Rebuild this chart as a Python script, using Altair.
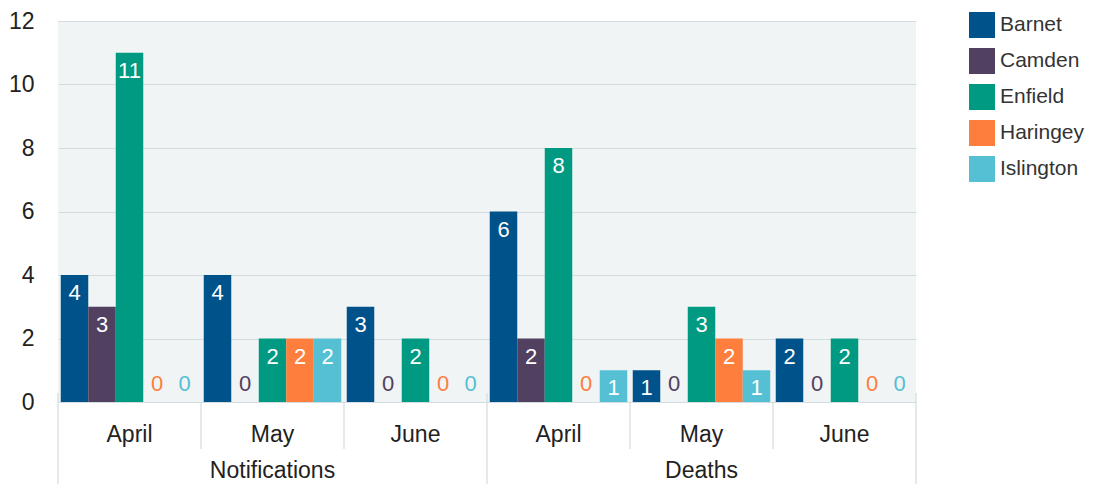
import altair as alt
import pandas as pd

measures = ["Notifications", "Deaths"]
months = ["April", "May", "June"]
boroughs = ["Barnet", "Camden", "Enfield", "Haringey", "Islington"]
colors = ["#00528a", "#51405f", "#009a82", "#fd7e3d", "#55bfd4"]

# values per group: Notifications April, May, June, Deaths April, May, June
barnet = [4, 4, 3, 6, 1, 2]
camden = [3, 0, 0, 2, 0, 0]
enfield = [11, 2, 2, 8, 3, 2]
haringey = [0, 2, 0, 0, 2, 0]
islington = [0, 2, 0, 1, 1, 0]
series = [barnet, camden, enfield, haringey, islington]

groups = [f"{m}|{mo}" for m in measures for mo in months]

rows = []
for bi, b in enumerate(boroughs):
    for gi, g in enumerate(groups):
        rows.append({"group": g, "borough": b, "value": series[bi][gi]})
df = pd.DataFrame(rows)

month_df = pd.DataFrame({"group": groups, "label": [g.split("|")[1] for g in groups]})
cat_df = pd.DataFrame({"group": [f"{m}|May" for m in measures], "label": measures})
inner_sep = pd.DataFrame({"group": [f"{m}|{mo}" for m in measures for mo in months[1:]]})
outer_sep0 = pd.DataFrame({"group": [f"{m}|April" for m in measures]})
outer_sep1 = pd.DataFrame({"group": ["Deaths|June"]})

W, H = 858, 381
FONT = "Liberation Sans"
GRID = "#d3dcdf"

xenc = alt.X("group:N", sort=groups, axis=None,
             scale=alt.Scale(paddingInner=0, paddingOuter=0))
xoff = alt.XOffset("borough:N", sort=boroughs,
                   scale=alt.Scale(paddingInner=0, paddingOuter=0.1))
color = alt.Color("borough:N", sort=boroughs,
                  scale=alt.Scale(domain=boroughs, range=colors),
                  legend=alt.Legend(title=None, orient="none", legendX=911, legendY=-9,
                                    symbolType="square", symbolSize=676,
                                    symbolStrokeWidth=0, rowPadding=10,
                                    labelFontSize=21, labelFont=FONT, labelColor="#333",
                                    labelOffset=5, padding=0))
yenc = alt.Y("value:Q", scale=alt.Scale(domain=[0, 12]),
             axis=alt.Axis(values=[0, 2, 4, 6, 8, 10, 12], title=None, domain=False,
                           ticks=False, labelFontSize=23, labelFont=FONT,
                           labelColor="#222", labelPadding=24, gridColor=GRID))

base = alt.Chart(df)
bars = base.mark_bar().encode(x=xenc, xOffset=xoff, y=yenc, color=color)

pos_labels = base.transform_filter("datum.value > 0").mark_text(
    fontSize=22, font=FONT, color="white", baseline="alphabetic", dy=25
).encode(x=xenc, xOffset=xoff, y="value:Q", text="value:Q")

zero_labels = base.transform_filter("datum.value == 0").mark_text(
    fontSize=22, font=FONT, baseline="alphabetic", dy=-11
).encode(x=xenc, xOffset=xoff, y="value:Q", text="value:Q",
         color=alt.Color("borough:N", sort=boroughs,
                         scale=alt.Scale(domain=boroughs, range=colors), legend=None))

month_text = alt.Chart(month_df).mark_text(
    fontSize=23, font=FONT, color="#222", baseline="middle"
).encode(x=alt.X("group:N", sort=groups, axis=None), y=alt.value(H + 33), text="label:N")

cat_text = alt.Chart(cat_df).mark_text(
    fontSize=23, font=FONT, color="#222", baseline="alphabetic"
).encode(x=alt.X("group:N", sort=groups, axis=None), y=alt.value(H + 76), text="label:N")

inner_rules = alt.Chart(inner_sep).mark_rule(color=GRID, strokeWidth=1.2).encode(
    x=alt.X("group:N", sort=groups, axis=None, bandPosition=0),
    y=alt.value(H), y2=alt.value(H + 47))
outer_rules0 = alt.Chart(outer_sep0).mark_rule(color=GRID, strokeWidth=1.2).encode(
    x=alt.X("group:N", sort=groups, axis=None, bandPosition=0),
    y=alt.value(H - 9), y2=alt.value(H + 100))
outer_rules1 = alt.Chart(outer_sep1).mark_rule(color=GRID, strokeWidth=1.2).encode(
    x=alt.X("group:N", sort=groups, axis=None, bandPosition=1),
    y=alt.value(H - 9), y2=alt.value(H + 100))

chart = alt.layer(
    bars, pos_labels, zero_labels, month_text, cat_text,
    inner_rules, outer_rules0, outer_rules1
).properties(
    width=W, height=H,
    autosize=alt.AutoSizeParams(type="none"),
    padding={"left": 50, "top": 13, "right": 169, "bottom": 82},
).configure_view(fill="#f0f4f5", stroke=None)

chart.save("out.html", embed_options={"renderer": "svg", "actions": False})
